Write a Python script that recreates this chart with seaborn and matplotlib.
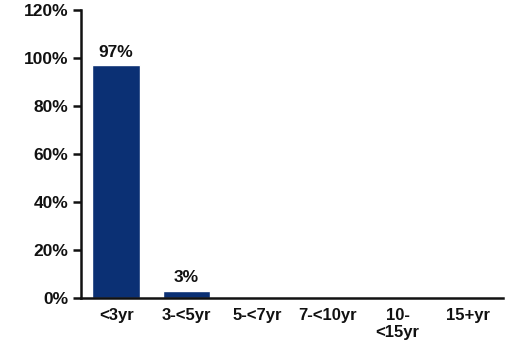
import matplotlib
matplotlib.use("Agg")
import matplotlib.pyplot as plt
import seaborn as sns
import pandas as pd

categories = ["<3yr", "3-<5yr", "5-<7yr", "7-<10yr", "10-\n<15yr", "15+yr"]
values = [97, 3, 0, 0, 0, 0]
value_labels = ["97%", "3%", "", "", "", ""]
yticks = [0, 20, 40, 60, 80, 100, 120]

sns.set_theme(style="white")
plt.rcParams["font.family"] = ["Liberation Sans", "DejaVu Sans"]
plt.rcParams["font.weight"] = "bold"

df = pd.DataFrame({"category": categories, "value": values})

fig = plt.figure(figsize=(5.12, 3.46), dpi=100)
ax = fig.add_axes([81 / 512, 1 - 298 / 346, (503 - 81) / 512, (298 - 10) / 346])

sns.barplot(data=df, x="category", y="value", color="#0b3074", saturation=1,
            width=0.68, ax=ax)

for bar, lab in zip(ax.patches, value_labels):
    if lab:
        ax.annotate(lab, (bar.get_x() + bar.get_width() / 2, bar.get_height()),
                    xytext=(0, 4), textcoords="offset points",
                    ha="center", va="bottom", fontsize=12.5, fontweight="bold",
                    color="#111111")

ax.set_ylim(0, 120)
ax.set_xlim(-0.5, len(categories) - 0.5)
ax.set_yticks(yticks)
ax.set_yticklabels([f"{t}%" for t in yticks])
ax.set_xlabel("")
ax.set_ylabel("")

for side in ("top", "right"):
    ax.spines[side].set_visible(False)
for side in ("left", "bottom"):
    ax.spines[side].set_color("#111111")
    ax.spines[side].set_linewidth(1.8)

ax.tick_params(axis="y", direction="out", length=6, width=1.8, color="#111111",
               labelsize=12.5, pad=3, left=True)
ax.tick_params(axis="x", length=0, labelsize=12, pad=7)
for lab in ax.get_xticklabels() + ax.get_yticklabels():
    lab.set_fontweight("bold")
    lab.set_color("#111111")

fig.savefig("out.png", dpi=100, facecolor="white")
